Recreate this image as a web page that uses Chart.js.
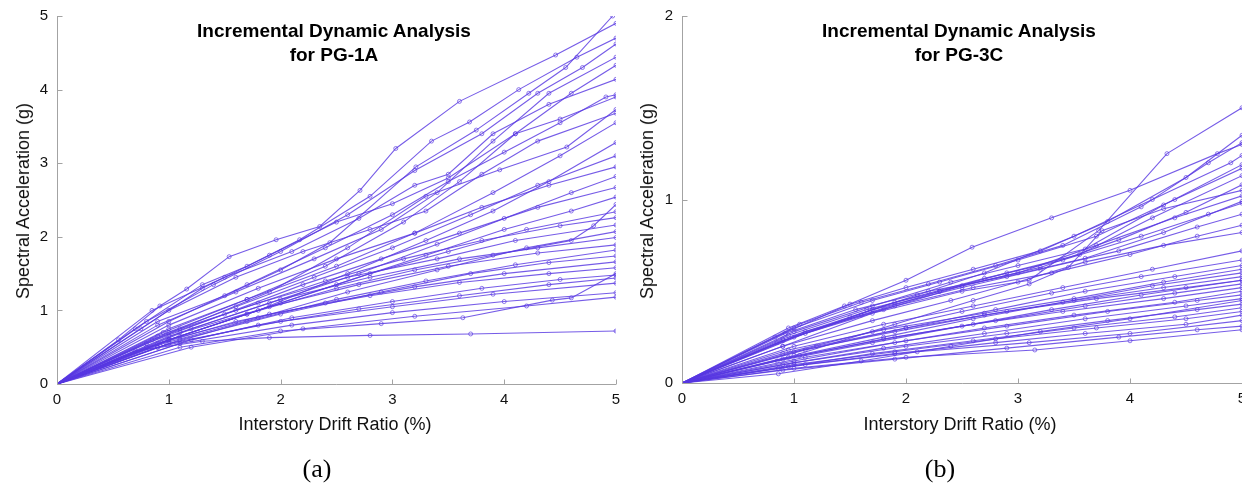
<!DOCTYPE html>
<html>
<head>
<meta charset="utf-8">
<script src="https://cdn.jsdelivr.net/npm/chart.js@4.4.1/dist/chart.umd.min.js"></script>
<style>
  html, body { margin:0; padding:0; background:#fff; }
  body { width:1242px; height:483px; position:relative; overflow:hidden; font-family:'Liberation Sans', Arial, Helvetica, sans-serif; }
  .panel { position:absolute; top:0; }
  .ttl { position:absolute; font-weight:bold; font-size:19px; line-height:24px; text-align:center; white-space:nowrap; color:#000; transform:translateX(-50%); }
  .xt { position:absolute; font-size:18px; line-height:18px; white-space:nowrap; color:#111; transform:translateX(-50%); }
  .yt { position:absolute; font-size:18px; line-height:18px; white-space:nowrap; color:#111; transform:translate(-50%,-50%) rotate(-90deg); }
  .cap { position:absolute; font-family:'Liberation Serif', 'Times New Roman', serif; font-size:26px; line-height:26px; white-space:nowrap; color:#000; transform:translateX(-50%); }
</style>
</head>
<body>
<div class="panel" style="left:0;width:622px;height:483px;"><canvas id="c1" width="622" height="483"></canvas></div>
<div class="panel" style="left:625px;width:617px;height:483px;"><canvas id="c2" width="617" height="483"></canvas></div>

<div class="ttl" style="left:334px;top:19px;">Incremental Dynamic Analysis<br>for PG-1A</div>
<div class="ttl" style="left:959px;top:19px;">Incremental Dynamic Analysis<br>for PG-3C</div>
<div class="xt" style="left:335px;top:415px;">Interstory Drift Ratio (%)</div>
<div class="xt" style="left:960px;top:415px;">Interstory Drift Ratio (%)</div>
<div class="yt" style="left:23px;top:201px;">Spectral Acceleration (g)</div>
<div class="yt" style="left:647px;top:201px;">Spectral Acceleration (g)</div>
<div class="cap" style="left:317px;top:456px;">(a)</div>
<div class="cap" style="left:940px;top:456px;">(b)</div>

<script>
// ---------- tick labels ----------
const xTicks = [0, 1, 2, 3, 4, 5];
const yTicksA = [0, 1, 2, 3, 4, 5];
const yTicksB = [0, 1, 2];

// ---------- PG-1A curves: [drift %, Sa g] ----------
const L01 = [[0,0],[0.55,0.6],[0.92,1.06],[1.16,1.29],[1.54,1.73],[1.96,1.96],[2.35,2.14],[2.71,2.63],[3.03,3.2],[3.6,3.84],[4.46,4.47],[5.0,4.9]];
const L02 = [[0,0],[0.7,0.75],[1.3,1.35],[1.7,1.6],[2.17,1.96],[2.8,2.55],[3.35,3.3],[3.69,3.56],[4.13,4.0],[4.65,4.44],[5.0,4.7]];
const L03 = [[0,0],[0.9,0.85],[1.5,1.2],[2.0,1.55],[2.44,1.92],[3.21,2.95],[3.75,3.45],[4.22,3.95],[4.55,4.3],[4.97,5.0]];
const L04 = [[0,0],[0.8,0.85],[1.4,1.35],[2.0,1.8],[2.6,2.3],[3.2,2.9],[3.8,3.4],[4.3,3.95],[4.7,4.3],[5,4.62]];
const L05 = [[0,0],[0.9,0.8],[1.6,1.25],[2.3,1.7],[2.9,2.1],[3.4,2.6],[3.9,3.3],[4.4,3.95],[5,4.44]];
const L06 = [[0,0],[1.0,0.75],[1.7,1.15],[2.4,1.6],[3.1,2.2],[3.6,2.75],[4.1,3.4],[4.6,3.95],[5,4.33]];
const L07 = [[0,0],[0.85,1.0],[1.5,1.45],[2.1,1.8],[2.7,2.25],[3.2,2.7],[3.5,2.85],[3.9,3.4],[4.4,3.8],[5,4.14]];
const L08 = [[0,0],[1.0,0.85],[1.7,1.35],[2.4,1.85],[3.0,2.3],[3.5,2.75],[4.0,3.15],[4.5,3.55],[4.91,3.9],[5,3.93]];
const L09 = [[0,0],[1.1,0.75],[1.9,1.25],[2.6,1.85],[3.3,2.55],[3.96,2.91],[4.56,3.22],[5,3.73]];
const L10 = [[0,0],[0.95,0.7],[1.7,1.15],[2.5,1.6],[3.2,2.05],[3.9,2.6],[4.5,3.1],[5,3.55]];
const L11 = [[0,0],[1.0,0.6],[1.8,1.0],[2.6,1.5],[3.3,1.95],[3.9,2.35],[4.4,2.75],[5,3.28]];
const L12 = [[0,0],[0.9,0.65],[1.6,1.05],[2.3,1.45],[3.0,1.85],[3.7,2.3],[4.3,2.7],[5,3.1]];
const L13 = [[0,0],[1.0,0.8],[1.8,1.3],[2.5,1.7],[3.2,2.05],[3.8,2.4],[4.4,2.7],[5,2.95]];
const L14 = [[0,0],[1.1,0.7],[1.9,1.1],[2.7,1.5],[3.4,1.9],[4.0,2.25],[4.6,2.6],[5,2.82]];
const L15 = [[0,0],[0.8,0.55],[1.5,0.95],[2.2,1.35],[2.9,1.7],[3.6,2.05],[4.3,2.4],[5,2.67]];
const L16 = [[0,0],[1.0,0.6],[1.7,0.95],[2.5,1.35],[3.3,1.75],[4.0,2.1],[4.6,2.35],[5,2.54]];
const L17 = [[0,0],[0.9,0.55],[1.7,0.95],[2.5,1.3],[3.2,1.55],[3.9,1.75],[4.6,1.95],[4.8,2.15],[5,2.44]];
const L18 = [[0,0],[1.1,0.65],[2.0,1.1],[2.8,1.5],[3.5,1.8],[4.2,2.1],[5,2.34]];
const L19 = [[0,0],[0.85,0.6],[1.6,1.0],[2.4,1.4],[3.1,1.7],[3.8,1.95],[4.5,2.15],[5,2.26]];
const L20 = [[0,0],[1.0,0.7],[1.8,1.1],[2.6,1.45],[3.4,1.7],[4.1,1.95],[5,2.16]];
const L21 = [[0,0],[0.95,0.55],[1.8,0.9],[2.6,1.25],[3.4,1.55],[4.2,1.85],[5,2.07]];
const L22 = [[0,0],[1.2,0.75],[2.0,1.15],[2.8,1.45],[3.6,1.7],[4.3,1.85],[5,1.99]];
const L23 = [[0,0],[1.0,0.65],[1.9,1.05],[2.7,1.35],[3.5,1.6],[4.3,1.78],[5,1.89]];
const L24 = [[0,0],[0.9,0.5],[1.7,0.85],[2.5,1.15],[3.3,1.4],[4.1,1.62],[5,1.82]];
const L25 = [[0,0],[1.1,0.6],[2.0,0.95],[2.9,1.25],[3.7,1.5],[4.4,1.65],[5,1.74]];
const L26 = [[0,0],[0.8,0.5],[1.6,0.85],[2.4,1.1],[3.2,1.32],[4.0,1.5],[5,1.66]];
const L27 = [[0,0],[1.0,0.6],[1.9,0.95],[2.8,1.2],[3.6,1.38],[4.4,1.5],[5,1.58]];
const L28 = [[0,0],[1.2,0.6],[2.1,0.9],[3.0,1.12],[3.8,1.3],[4.5,1.42],[5,1.48]];
const L29 = [[0,0],[0.9,0.5],[1.8,0.8],[2.7,1.02],[3.6,1.2],[4.4,1.35],[5,1.44]];
const L30 = [[0,0],[1.0,0.55],[2.0,0.85],[3.0,1.05],[3.9,1.22],[5,1.37]];
const L31 = [[0,0],[1.1,0.5],[2.0,0.72],[2.9,0.82],[3.63,0.9],[4.43,1.14],[4.6,1.17],[5,1.5]];
const L32 = [[0,0],[1.1,0.55],[2.1,0.8],[3.0,0.97],[4.0,1.12],[5,1.24]];
const L33 = [[0,0],[1.2,0.5],[2.2,0.75],[3.2,0.92],[4.2,1.06],[5,1.18]];
const L34 = [[0,0],[0.7,0.45],[1.3,0.58],[1.9,0.63],[2.8,0.66],[3.7,0.68],[5,0.72]];
const L35 = [[0,0],[0.75,0.75],[1.3,1.3],[1.9,1.75],[2.5,2.2],[3.0,2.45],[3.5,2.8],[4.1,3.4],[4.5,3.6],[5,3.9]];
const L36 = [[0,0],[1.0,1.0],[1.6,1.45],[2.2,1.8],[2.8,2.1],[3.3,2.35],[3.8,2.85],[4.3,3.3],[5,3.68]];

// ---------- PG-3C curves: [drift %, Sa g] ----------
const R01 = [[0,0],[0.83,0.25],[1.5,0.43],[2.0,0.56],[2.59,0.74],[3.3,0.9],[4.0,1.05],[4.78,1.25],[5,1.3]];
const R02 = [[0,0],[0.9,0.2],[1.7,0.38],[2.5,0.5],[3.1,0.56],[3.72,0.83],[4.33,1.25],[5,1.5]];
const R03 = [[0,0],[0.95,0.3],[1.45,0.42],[2.0,0.52],[2.6,0.62],[3.2,0.72],[3.8,0.88],[4.5,1.12],[5,1.35]];
const R04 = [[0,0],[1.05,0.32],[1.6,0.44],[2.2,0.54],[2.8,0.64],[3.4,0.75],[4.1,0.96],[4.7,1.2],[5,1.31]];
const R05 = [[0,0],[0.9,0.24],[1.5,0.36],[2.1,0.48],[2.7,0.6],[3.5,0.8],[4.2,1.0],[4.9,1.2],[5,1.24]];
const R06 = [[0,0],[1.0,0.28],[1.7,0.42],[2.4,0.55],[3.0,0.64],[3.6,0.73],[4.3,0.97],[5,1.19]];
const R07 = [[0,0],[0.85,0.22],[1.6,0.37],[2.3,0.5],[2.9,0.6],[3.55,0.7],[4.2,0.9],[5,1.13]];
const R08 = [[0,0],[1.1,0.27],[1.8,0.4],[2.5,0.53],[3.2,0.63],[3.9,0.78],[4.5,0.93],[5,1.08]];
const R09 = [[0,0],[0.95,0.26],[1.65,0.4],[2.3,0.5],[3.0,0.6],[3.7,0.75],[4.4,0.9],[5,1.02]];
const R10 = [[0,0],[1.0,0.25],[1.9,0.44],[2.7,0.57],[3.4,0.67],[4.1,0.8],[4.7,0.92],[5,0.98]];
const R11 = [[0,0],[0.9,0.23],[1.7,0.4],[2.5,0.52],[3.2,0.62],[3.9,0.72],[4.6,0.85],[5,0.92]];
const R12 = [[0,0],[1.1,0.28],[1.9,0.42],[2.6,0.52],[3.3,0.6],[4.0,0.7],[4.6,0.8],[5,0.86]];
const R13 = [[0,0],[1.0,0.15],[1.9,0.32],[2.6,0.45],[3.1,0.54],[3.45,0.63],[3.75,0.83],[4.3,0.95],[5,1.05]];
const R14 = [[0,0],[0.9,0.2],[1.7,0.34],[2.4,0.45],[3.0,0.55],[3.6,0.66],[4.3,0.75],[5,0.82]];
const R15 = [[0,0],[1.0,0.2],[1.8,0.32],[2.6,0.42],[3.4,0.52],[4.2,0.62],[5,0.72]];
const R16 = [[0,0],[0.9,0.16],[1.7,0.28],[2.5,0.39],[3.3,0.49],[4.1,0.58],[5,0.67]];
const R17 = [[0,0],[1.1,0.18],[2.0,0.3],[2.8,0.4],[3.6,0.5],[4.4,0.58],[5,0.64]];
const R18 = [[0,0],[0.95,0.14],[1.8,0.25],[2.6,0.35],[3.4,0.44],[4.2,0.53],[5,0.6]];
const R19 = [[0,0],[1.0,0.17],[1.9,0.28],[2.7,0.37],[3.5,0.45],[4.3,0.52],[5,0.58]];
const R20 = [[0,0],[0.85,0.12],[1.7,0.22],[2.5,0.31],[3.3,0.4],[4.1,0.48],[5,0.56]];
const R21 = [[0,0],[1.05,0.15],[1.9,0.25],[2.8,0.34],[3.6,0.42],[4.4,0.49],[5,0.54]];
const R22 = [[0,0],[0.9,0.13],[1.8,0.24],[2.6,0.32],[3.4,0.39],[4.3,0.46],[5,0.52]];
const R23 = [[0,0],[1.0,0.12],[1.9,0.22],[2.7,0.3],[3.5,0.37],[4.4,0.44],[5,0.5]];
const R24 = [[0,0],[1.1,0.14],[2.0,0.23],[2.9,0.31],[3.8,0.39],[4.6,0.45],[5,0.48]];
const R25 = [[0,0],[0.9,0.1],[1.8,0.19],[2.7,0.27],[3.6,0.35],[4.5,0.42],[5,0.46]];
const R26 = [[0,0],[1.0,0.11],[2.0,0.2],[2.9,0.27],[3.8,0.34],[4.6,0.4],[5,0.43]];
const R27 = [[0,0],[0.86,0.08],[1.7,0.16],[2.6,0.23],[3.5,0.3],[4.4,0.36],[5,0.41]];
const R28 = [[0,0],[1.0,0.1],[1.9,0.17],[2.8,0.24],[3.7,0.3],[4.5,0.35],[5,0.39]];
const R29 = [[0,0],[0.95,0.09],[1.9,0.16],[2.8,0.22],[3.6,0.27],[4.5,0.32],[5,0.37]];
const R30 = [[0,0],[1.1,0.1],[2.1,0.17],[3.1,0.22],[4.0,0.27],[5,0.34]];
const R31 = [[0,0],[0.9,0.07],[1.9,0.13],[2.9,0.19],[3.9,0.25],[4.6,0.29],[5,0.31]];
const R32 = [[0,0],[1.0,0.08],[2.0,0.14],[3.15,0.18],[4.0,0.23],[5,0.29]];
const R33 = [[0,0],[0.86,0.05],[1.6,0.12],[2.4,0.2],[3.2,0.28],[4.0,0.35],[5,0.45]];
const R34 = [[0,0],[1.2,0.2],[2.0,0.3],[2.9,0.39],[3.7,0.46],[4.5,0.52],[5,0.56]];
const R35 = [[0,0],[0.92,0.27],[1.55,0.4],[2.2,0.5],[2.9,0.58],[3.6,0.68],[4.3,0.82],[5,0.99]];
const R36 = [[0,0],[1.0,0.3],[1.7,0.45],[2.3,0.55],[3.0,0.67],[3.7,0.8],[4.4,1.0],[5,1.17]];
const R37 = [[0,0],[0.95,0.18],[1.8,0.29],[2.7,0.38],[3.5,0.46],[4.3,0.55],[5,0.62]];

const curvesA = [L01,L02,L03,L04,L05,L06,L07,L08,L09,L10,L11,L12,L13,L14,L15,L16,L17,L18,L19,L20,L21,L22,L23,L24,L25,L26,L27,L28,L29,L30,L31,L32,L33,L34,L35,L36];
const curvesB = [R01,R02,R03,R04,R05,R06,R07,R08,R09,R10,R11,R12,R13,R14,R15,R16,R17,R18,R19,R20,R21,R22,R23,R24,R25,R26,R27,R28,R29,R30,R31,R32,R33,R34,R35,R36,R37];

const LINE = 'rgba(88, 56, 226, 0.82)';

function toDatasets(curves) {
  return curves.map((c, i) => ({
    label: 'GM ' + (i + 1),
    data: c.map(([x, y]) => ({ x, y })),
    showLine: true,
    borderColor: LINE,
    borderWidth: 1.1,
    pointRadius: c.map((p, j) => j === 0 ? 0 : 2),
    pointBorderWidth: 0.8,
    pointBorderColor: LINE,
    pointBackgroundColor: 'rgba(0,0,0,0)',
    pointStyle: 'circle',
    tension: 0
  }));
}

const axesPlugin = {
  id: 'matlabAxes',
  afterDatasetsDraw(chart) {
    const { ctx, chartArea: a, scales: { x, y } } = chart;
    ctx.save();
    ctx.strokeStyle = '#a3a3a3';
    ctx.lineWidth = 1;
    ctx.beginPath();
    const L = Math.round(a.left) + 0.5, B = Math.round(a.bottom) + 0.5;
    ctx.moveTo(L, Math.round(a.top));
    ctx.lineTo(L, B);
    ctx.lineTo(Math.round(a.right), B);
    x.ticks.forEach(t => {
      const px = Math.round(x.getPixelForValue(t.value)) + 0.5;
      ctx.moveTo(px, B); ctx.lineTo(px, B - 5);
    });
    y.ticks.forEach(t => {
      const py = Math.round(y.getPixelForValue(t.value)) + 0.5;
      ctx.moveTo(L, py); ctx.lineTo(L + 5, py);
    });
    ctx.stroke();
    ctx.restore();
  }
};

function makeChart(id, curves, yMax, yTicks, padRight, xHeight) {
  return new Chart(document.getElementById(id), {
    type: 'scatter',
    data: { datasets: toDatasets(curves) },
    options: {
      responsive: false,
      devicePixelRatio: 1,
      animation: false,
      events: [],
      layout: { autoPadding: false, padding: { top: 16, right: padRight, bottom: 0, left: 0 } },
      plugins: { legend: { display: false }, tooltip: { enabled: false }, title: { display: false } },
      scales: {
        x: {
          type: 'linear', min: 0, max: 5,
          afterBuildTicks: s => { s.ticks = xTicks.map(v => ({ value: v })); },
          afterFit: s => { s.height = xHeight; s.paddingLeft = 0; s.paddingRight = 0; },
          grid: { display: false, drawTicks: false },
          border: { display: false },
          ticks: { padding: 7, color: '#111', font: { family: "'Liberation Sans', Arial, sans-serif", size: 15 }, maxRotation: 0, autoSkip: false }
        },
        y: {
          type: 'linear', min: 0, max: yMax,
          afterBuildTicks: s => { s.ticks = yTicks.map(v => ({ value: v })); },
          afterFit: s => { s.width = 57; s.paddingTop = 0; s.paddingBottom = 0; },
          grid: { display: false, drawTicks: false },
          border: { display: false },
          ticks: { padding: 9, color: '#111', font: { family: "'Liberation Sans', Arial, sans-serif", size: 15 } }
        }
      }
    },
    plugins: [axesPlugin]
  });
}

makeChart('c1', curvesA, 5, yTicksA, 6, 99);
makeChart('c2', curvesB, 2, yTicksB, 0, 100);
</script>
</body>
</html>
